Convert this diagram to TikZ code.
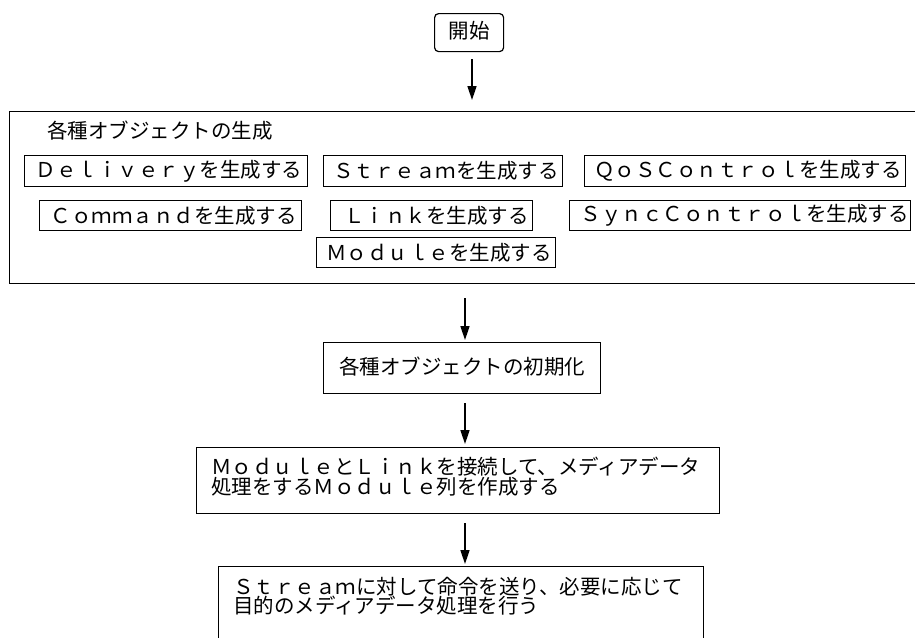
\documentclass[tikz,border=0pt]{standalone}
\usepackage{fontspec}
\newfontfamily\jp{Noto Sans CJK JP}
\usetikzlibrary{arrows.meta}
\begin{document}
\begin{tikzpicture}[x=1pt,y=-1pt,
  frame/.style={draw, line width=1.2pt, inner sep=0pt, anchor=north west},
  jpfont/.style={font=\jp\fontsize{20.5pt}{19.5pt}\selectfont},
  ibox/.style={frame, jpfont, minimum height=31pt},
  tbox/.style={frame, jpfont},
  txt/.style={inner sep=0pt, jpfont},
  arr/.style={line width=1.6pt, -{Triangle[width=9pt,length=14pt]}}
]
\useasboundingbox (0,0) rectangle (915,637);
\clip (0,0) rectangle (915,637);
\fill[white] (0,0) rectangle (915,637);

% start
\node[tbox, rounded corners=4pt, minimum width=69pt, minimum height=38pt] (start) at (434,13) {\raisebox{5pt}{開始}};

% generation container
\node[frame, minimum width=920pt, minimum height=172pt] (gen) at (9,111) {};
\node[txt, anchor=west] (gentitle) at (47,131) {各種オブジェクトの生成};

\node[ibox, minimum width=283pt] (deliv) at (24,155) {\hspace*{6pt}Ｄｅｌｉｖｅｒｙを生成する};
\node[ibox, minimum width=239pt] (strm) at (323,155) {\hspace*{6pt}Ｓｔｒｅａｍを生成する};
\node[ibox, minimum width=321pt] (qos) at (584,155) {\hspace*{6pt}ＱｏＳＣｏｎｔｒｏｌを生成する};
\node[ibox, minimum width=262pt, minimum height=30pt] (cmd) at (39,200) {\hspace*{6pt}Ｃｏｍｍａｎｄを生成する};
\node[ibox, minimum width=202pt, minimum height=30pt] (link) at (330,200) {\hspace*{10pt}Ｌｉｎｋを生成する};
\node[ibox, minimum width=341pt, minimum height=30pt] (sync) at (569,200) {\hspace*{9pt}ＳｙｎｃＣｏｎｔｒｏｌを生成する};
\node[ibox, minimum width=239pt, minimum height=30pt] (mod) at (316,237) {\hspace*{6pt}Ｍｏｄｕｌｅを生成する};

% init
\node[tbox, minimum width=277pt, minimum height=51pt] (init) at (323,342) {\raisebox{4pt}{各種オブジェクトの初期化}};

% connect
\node[frame, minimum width=523pt, minimum height=66pt] (conn) at (196,447) {};
\node[txt, anchor=north west, align=left] (conntext) at (211,457) {ＭｏｄｕｌｅとＬｉｎｋを接続して、メディアデータ\\処理をするＭｏｄｕｌｅ列を作成する};

% exec
\node[frame, minimum width=485pt, minimum height=100pt] (exec) at (218,566) {};
\node[txt, anchor=north west, align=left] (exectext) at (233,577) {Ｓｔｒｅａｍに対して命令を送り、必要に応じて\\目的のメディアデータ処理を行う};

% arrows
\coordinate (c1) at (472,0);
\coordinate (c2) at (465,0);
\draw[arr, shorten <=7pt, shorten >=11pt] (start.south -| c1) -- (gen.north -| c1);
\draw[arr, shorten <=14pt, shorten >=2pt] (gen.south -| c2) -- (init.north -| c2);
\draw[arr, shorten <=9pt, shorten >=3pt] (init.south -| c2) -- (conn.north -| c2);
\draw[arr, shorten <=9pt, shorten >=2pt] (conn.south -| c2) -- (exec.north -| c2);
\end{tikzpicture}
\end{document}
